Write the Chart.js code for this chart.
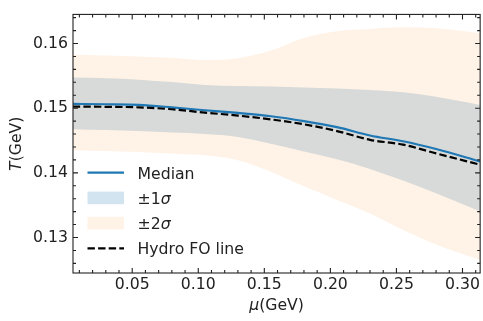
<!DOCTYPE html>
<html>
<head>
<meta charset="utf-8">
<script src="https://cdn.jsdelivr.net/npm/chart.js@4.4.0/dist/chart.umd.min.js"></script>
<style>
  html, body { margin: 0; padding: 0; background: #fff; }
</style>
</head>
<body>
<canvas id="fo_chart" width="483" height="321"></canvas>
<script>
// chemical potential grid (GeV)
const mu      = [0.005, 0.03, 0.055, 0.08, 0.105, 0.13, 0.155, 0.18, 0.205, 0.23, 0.255, 0.28, 0.3134];
const median  = [0.15066, 0.15061, 0.15051, 0.15013, 0.14968, 0.14926, 0.14875, 0.14800, 0.14706, 0.14578, 0.14488, 0.14368, 0.14176];
const hydroFO = [0.15025, 0.15021, 0.15013, 0.14983, 0.14931, 0.14886, 0.14826, 0.14751, 0.14646, 0.14511, 0.14436, 0.14301, 0.14125];
const sig1Hi  = [0.15475, 0.15463, 0.15441, 0.15403, 0.15358, 0.15343, 0.15336, 0.15321, 0.15306, 0.15283, 0.15246, 0.15178, 0.15051];
const sig1Lo  = [0.14676, 0.14661, 0.14646, 0.14623, 0.14601, 0.14556, 0.14451, 0.14331, 0.14211, 0.14061, 0.13881, 0.13686, 0.13401];
const sig2Hi  = [0.15826, 0.15816, 0.15801, 0.15778, 0.15741, 0.15771, 0.15891, 0.16086, 0.16190, 0.16225, 0.16250, 0.16235, 0.16160];
const sig2Lo  = [0.14350, 0.14338, 0.14323, 0.14301, 0.14271, 0.14196, 0.14016, 0.13791, 0.13581, 0.13371, 0.13116, 0.12891, 0.12651];

const xTicks = [0.05, 0.10, 0.15, 0.20, 0.25, 0.30];
const yTicks = [0.13, 0.14, 0.15, 0.16];
const legendLabels = ['Median', '±1σ', '±2σ', 'Hydro FO line'];

const ink = '#222';
const fontSize = 15.7;
const blue = '#1f77b4';
const band1 = 'rgba(31,119,180,0.2)';
const band2 = 'rgba(255,127,14,0.1)';

const pts = arr => arr.map((v, i) => ({x: mu[i], y: v}));

// draws text where the chars listed in `ital` are italic
const drawMixed = (ctx, text, ital, x, y, align) => {
    const parts = [];
    for (const ch of text) {
        const it = ital.includes(ch);
        if (parts.length && parts[parts.length - 1].it === it) parts[parts.length - 1].s += ch;
        else parts.push({s: ch, it: it});
    }
    const fontOf = it => (it ? 'italic ' : '') + fontSize + 'px "DejaVu Sans"';
    let total = 0;
    parts.forEach(p => { ctx.font = fontOf(p.it); p.w = ctx.measureText(p.s).width; total += p.w; });
    let cx = align === 'center' ? x - total / 2 : x;
    ctx.textAlign = 'left';
    parts.forEach(p => { ctx.font = fontOf(p.it); ctx.fillText(p.s, cx, y); cx += p.w; });
};

const axesDecor = {
    id: 'axesDecor',
    afterDraw(chart) {
        const {ctx, chartArea: a, scales: {x, y}} = chart;
        ctx.save();
        ctx.strokeStyle = ink;
        ctx.lineWidth = 1.1;

        // inward ticks on all four sides
        const tickX = (v, len) => {
            const px = x.getPixelForValue(v);
            ctx.moveTo(px, a.bottom); ctx.lineTo(px, a.bottom - len);
            ctx.moveTo(px, a.top); ctx.lineTo(px, a.top + len);
        };
        const tickY = (v, len) => {
            const py = y.getPixelForValue(v);
            ctx.moveTo(a.left, py); ctx.lineTo(a.left + len, py);
            ctx.moveTo(a.right, py); ctx.lineTo(a.right - len, py);
        };
        ctx.beginPath();
        xTicks.forEach(v => tickX(v, 5));
        for (let k = 1; k <= 31; k++) if (k % 5 !== 0) tickX(k / 100, 3);
        yTicks.forEach(v => tickY(v, 5));
        for (let k = 63; k <= 82; k++) if (k % 5 !== 0) tickY(k * 0.002, 3);
        ctx.stroke();

        ctx.strokeRect(a.left, a.top, a.right - a.left, a.bottom - a.top);

        // axis titles
        ctx.fillStyle = ink;
        ctx.textBaseline = 'alphabetic';
        drawMixed(ctx, 'μ(GeV)', 'μ', (a.left + a.right) / 2, 310, 'center');
        ctx.save();
        ctx.translate(20.5, (a.top + a.bottom) / 2);
        ctx.rotate(-Math.PI / 2);
        drawMixed(ctx, 'T(GeV)', 'T', 0, 0, 'center');
        ctx.restore();

        // legend
        const lx = 87.5, lw = 36.5, tx = 137.5;
        legendLabels.forEach((lab, i) => {
            const cy = 172.7 + i * 25.2;
            if (i === 0 || i === 3) {
                ctx.beginPath();
                ctx.strokeStyle = i === 0 ? blue : 'black';
                ctx.lineWidth = 2.2;
                ctx.setLineDash(i === 3 ? [7.4, 3.2] : []);
                ctx.moveTo(lx, cy); ctx.lineTo(lx + lw, cy);
                ctx.stroke();
                ctx.setLineDash([]);
            } else {
                ctx.fillStyle = i === 1 ? band1 : band2;
                ctx.fillRect(lx, cy - 6.3, lw, 12.6);
            }
            ctx.fillStyle = ink;
            drawMixed(ctx, lab, 'σ', tx, cy + 6, 'left');
        });
        ctx.restore();
    }
};

const tickFont = {family: 'DejaVu Sans', size: fontSize};

const data = {
    datasets: [
        {label: 'Hydro FO line', data: pts(hydroFO), borderColor: 'black', borderWidth: 2.2, borderDash: [7.4, 3.2], fill: false},
        {label: 'Median', data: pts(median), borderColor: blue, borderWidth: 2.2, fill: false},
        {label: '±2σ', data: pts(sig2Hi), borderWidth: 0, borderColor: 'rgba(0,0,0,0)', backgroundColor: band2, fill: '+1'},
        {label: '±2σ low', data: pts(sig2Lo), borderWidth: 0, borderColor: 'rgba(0,0,0,0)', fill: false},
        {label: '±1σ', data: pts(sig1Hi), borderWidth: 0, borderColor: 'rgba(0,0,0,0)', backgroundColor: band1, fill: '+1'},
        {label: '±1σ low', data: pts(sig1Lo), borderWidth: 0, borderColor: 'rgba(0,0,0,0)', fill: false}
    ]
};

const config = {
    type: 'line',
    data: data,
    options: {
        responsive: false,
        animation: false,
        layout: {padding: {left: 0, right: 1, top: 7, bottom: 0}},
        elements: {point: {radius: 0}, line: {cubicInterpolationMode: 'monotone'}},
        plugins: {legend: {display: false}, tooltip: {enabled: false}},
        scales: {
            x: {
                type: 'linear',
                min: 0.00518,
                max: 0.31336,
                grid: {display: false, drawTicks: false},
                border: {display: false},
                ticks: {font: tickFont, color: ink, padding: 3, maxRotation: 0, autoSkip: false,
                        callback: v => v.toFixed(2)},
                afterBuildTicks: s => { s.ticks = xTicks.map(v => ({value: v})); },
                afterFit: s => { s.height = 48; }
            },
            y: {
                type: 'linear',
                min: 0.12451,
                max: 0.1645,
                grid: {display: false, drawTicks: false},
                border: {display: false},
                ticks: {font: tickFont, color: ink, padding: 5, autoSkip: false,
                        callback: v => v.toFixed(2)},
                afterBuildTicks: s => { s.ticks = yTicks.map(v => ({value: v})); },
                afterFit: s => { s.width = 73; }
            }
        }
    },
    plugins: [axesDecor]
};

new Chart(document.getElementById('fo_chart'), config);
</script>
</body>
</html>
